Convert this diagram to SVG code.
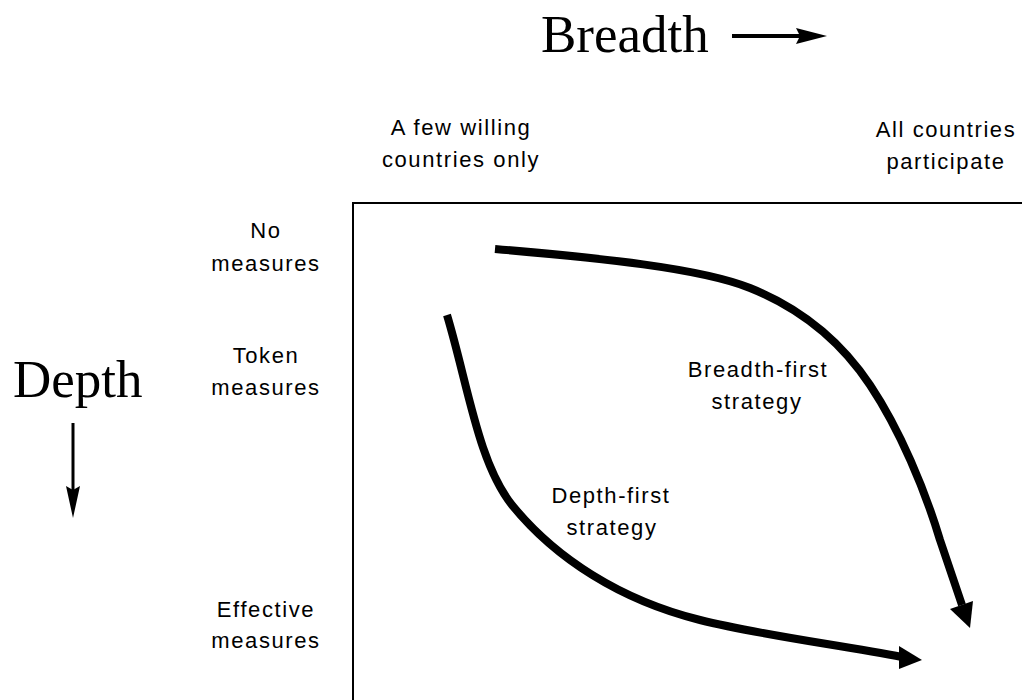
<svg xmlns="http://www.w3.org/2000/svg" width="1022" height="700" viewBox="0 0 1022 700">
  <style>
    .big { font-family: "Liberation Serif", "Times New Roman", serif; font-size: 53px; fill: #000; }
    .lbl { font-family: "Liberation Sans", Arial, sans-serif; font-size: 22px; letter-spacing: 1.6px; fill: #000; text-anchor: middle; }
    .curve { fill: none; stroke: #000; stroke-width: 8; stroke-linecap: butt; stroke-linejoin: round; }
    .axis { fill: none; stroke: #000; }
  </style>
  <rect x="0" y="0" width="1022" height="700" fill="#fff"/>

  <g id="frame">
    <path d="M353,700 L353,203 L1022,203" fill="none" stroke="#000" stroke-width="2"/>
  </g>

  <g id="breadth-axis">
    <text class="big" x="541" y="52">Breadth</text>
    <line class="axis" x1="732" y1="36" x2="800" y2="36" stroke-width="4"/>
    <polygon points="796,28 827,36 796,44 800,36" fill="#000"/>
  </g>

  <g id="depth-axis">
    <text class="big" x="13" y="397">Depth</text>
    <line class="axis" x1="73" y1="423" x2="73" y2="492" stroke-width="3"/>
    <polygon points="66,486 73,518 80,486 73,490" fill="#000"/>
  </g>

  <g id="col-few">
    <text class="lbl" x="461" y="135">A few willing</text>
    <text class="lbl" x="461" y="167">countries only</text>
  </g>
  <g id="col-all">
    <text class="lbl" x="946" y="137">All countries</text>
    <text class="lbl" x="946" y="169">participate</text>
  </g>

  <g id="row-no">
    <text class="lbl" x="266" y="238">No</text>
    <text class="lbl" x="266" y="271">measures</text>
  </g>
  <g id="row-token">
    <text class="lbl" x="266" y="363">Token</text>
    <text class="lbl" x="266" y="395">measures</text>
  </g>
  <g id="row-effective">
    <text class="lbl" x="266" y="617">Effective</text>
    <text class="lbl" x="266" y="648">measures</text>
  </g>

  <g id="connectors">
    <g id="breadth-first">
      <path class="curve" d="M495,249 C600,258 700,268 750,288 C800,308 840,340 870,385 C900,430 925,490 940,540 L962,605"/>
      <polygon points="950,609 973,601 970,628" fill="#000"/>
    </g>
    <g id="depth-first">
      <path class="curve" d="M447,315 C468,385 478,462 512,505 C555,558 620,600 700,620 C760,635 840,645 902,657"/>
      <polygon points="899,646 922,660 899,669" fill="#000"/>
    </g>
  </g>

  <g id="label-breadth-first">
    <text class="lbl" x="758" y="377">Breadth-first</text>
    <text class="lbl" x="757" y="409">strategy</text>
  </g>
  <g id="label-depth-first">
    <text class="lbl" x="611" y="503">Depth-first</text>
    <text class="lbl" x="612" y="535">strategy</text>
  </g>
</svg>
